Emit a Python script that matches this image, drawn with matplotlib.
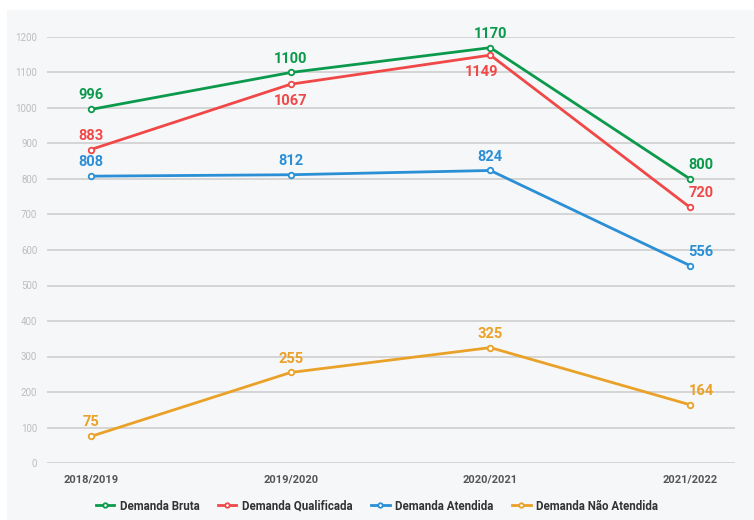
import matplotlib.pyplot as plt
from matplotlib.patches import Rectangle

anos = ['2018/2019', '2019/2020', '2020/2021', '2021/2022']
bruta = [996, 1100, 1170, 800]
qualificada = [883, 1067, 1149, 720]
atendida = [808, 812, 824, 556]
nao_atendida = [75, 255, 325, 164]

cores = {
    'Demanda Bruta': '#0b9a4b',
    'Demanda Qualificada': '#f04747',
    'Demanda Atendida': '#2b8fd5',
    'Demanda Não Atendida': '#eaa128',
}

plt.rcParams['font.family'] = ['Roboto', 'DejaVu Sans']

fig = plt.figure(figsize=(7.54, 5.2), dpi=100, facecolor='white')
fig.patches.append(Rectangle((7 / 754, 0), 1, 1 - 10 / 520, transform=fig.transFigure,
                             facecolor='#f6f7f9', edgecolor='none', zorder=-10))
ax = fig.add_axes([47 / 754, 1 - 463 / 520, 688 / 754, 426 / 520])
ax.set_facecolor('none')

x = list(range(len(anos)))
series = [
    ('Demanda Bruta', bruta, ['a', 'a', 'a', 'ar']),
    ('Demanda Qualificada', qualificada, ['a', 'b', 'bl', 'ar']),
    ('Demanda Atendida', atendida, ['a', 'a', 'a', 'ar']),
    ('Demanda Não Atendida', nao_atendida, ['a', 'a', 'a', 'ar']),
]

for nome, vals, pos in series:
    c = cores[nome]
    ax.plot(x, vals, color=c, lw=2, marker='o', ms=4, mfc='white', mew=1.3,
            label=nome, zorder=3)
    for xi, v, p in zip(x, vals, pos):
        dx = 0
        if 'r' in p:
            dx = 8
        elif 'l' in p:
            dx = -6
        dy = -17 if p.startswith('b') else 5
        ax.annotate(str(v), (xi, v), xytext=(dx, dy), textcoords='offset points',
                    ha='center', va='bottom', color=c, fontsize=10.5,
                    fontweight='bold', zorder=4)

ax.set_xlim(-0.22, 3.225)
ax.set_ylim(0, 1200)
ax.set_yticks(range(0, 1201, 100))
ax.set_xticks(x)
ax.set_xticklabels(anos, fontsize=8, fontweight='bold', color='#555555')
ax.tick_params(axis='y', labelsize=7, labelcolor='#bdbdbd', length=0, pad=7)
ax.tick_params(axis='x', length=0, pad=8)
ax.grid(axis='y', color='#cfcfcf', lw=1.2)
ax.set_axisbelow(True)
for s in ax.spines.values():
    s.set_visible(False)

leg = fig.legend(loc='center', bbox_to_anchor=(0.5, 1 - 506 / 520), ncol=4,
                 frameon=False, handlelength=1.6, columnspacing=1.6,
                 handletextpad=0.5, markerscale=0.8,
                 prop={'size': 8.3, 'weight': 'bold'})
for t in leg.get_texts():
    t.set_color('#333333')

fig.savefig('out.png', dpi=100, facecolor=fig.get_facecolor())
